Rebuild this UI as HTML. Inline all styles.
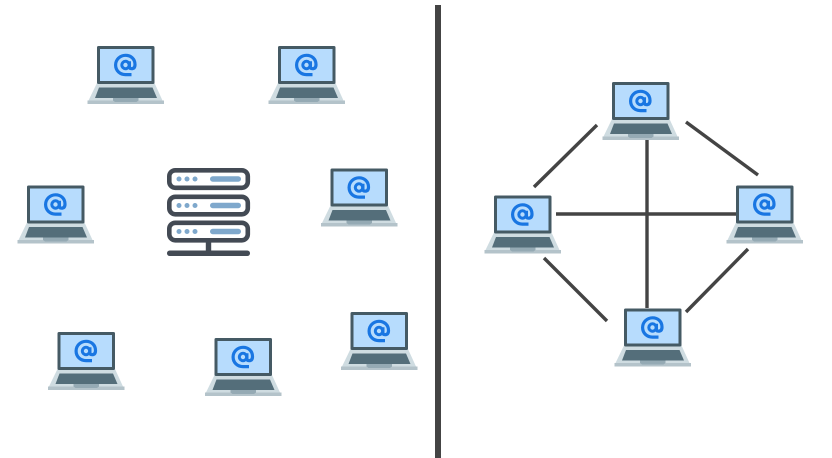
<!DOCTYPE html>
<html lang="en"><head><meta charset="utf-8"><title>Client-server and peer-to-peer networks</title>
<style>html,body{margin:0;padding:0;background:#fff}svg{display:block}</style></head>
<body>
<svg width="832" height="458" viewBox="0 0 832 458" xmlns="http://www.w3.org/2000/svg">
<defs>
<g id="l">
<path d="M10 37H67.500L75.500 54.500H1.500Z" fill="#cfdce1"/>
<path d="M12 41.500H65.500L70 52H8Z" fill="#546e7a"/>
<path d="M0.500 54.500H77V58H0.500Z" fill="#b4c3ca"/>
<path d="M26 52H51.500V54.500L49.500 56H28L26 54.500Z" fill="#95aab4"/>
<rect x="10" y="0" width="57.500" height="38" rx="1.500" fill="#455a64"/>
<rect x="13" y="3" width="51.500" height="32" fill="#b7dcfd"/>
<circle cx="38.500" cy="19" r="3.700" fill="none" stroke="#1976e2" stroke-width="3"/>
<path d="M42.400 15.300V20.500Q42.400 22.700 44.500 22.700Q48 22.700 48 18.500C48 13 43.800 9.300 38.500 9.300C33 9.300 28.600 13.600 28.600 19C28.600 24.700 33 28.600 38.500 28.600H44.500" fill="none" stroke="#1976e2" stroke-width="3.200"/>
</g>
<g id="s">
<rect x="2.300" y="2.300" width="78.500" height="17.500" rx="6" fill="#fff" stroke="#434a54" stroke-width="4.600"/>
<circle cx="12" cy="11" r="2.500" fill="#7fa8cc"/><circle cx="20" cy="11" r="2.500" fill="#7fa8cc"/><circle cx="28" cy="11" r="2.500" fill="#7fa8cc"/>
<rect x="43" y="8.300" width="31" height="5.400" rx="2.700" fill="#7fa8cc"/>
</g>
</defs>

<rect x="435" y="5" width="6" height="453" fill="#444"/>

<use href="#l" x="87" y="46"/>
<use href="#l" x="268" y="46"/>
<use href="#l" x="17" y="185.500"/>
<use href="#l" x="320.500" y="168.500"/>
<use href="#l" x="47.500" y="332"/>
<use href="#l" x="204.500" y="338"/>
<use href="#l" x="340.500" y="312"/>

<use href="#s" x="167" y="168"/>
<use href="#s" x="167" y="194.500"/>
<use href="#s" x="167" y="220.500"/>
<rect x="205.800" y="242" width="5.400" height="12" fill="#434a54"/>
<rect x="167" y="250.500" width="83" height="5.500" rx="2.700" fill="#434a54"/>

<g stroke="#444" stroke-width="3.400" fill="none">
<path d="M534 187L597 125"/>
<path d="M686 122L758 175"/>
<path d="M544 258L607 321"/>
<path d="M748 249L686 312"/>
<path d="M556 214H737"/>
<path d="M647 140V308"/>
</g>

<use href="#l" x="602" y="82"/>
<use href="#l" x="484" y="195.500"/>
<use href="#l" x="726" y="185.500"/>
<use href="#l" x="614" y="308.500"/>
</svg>
</body></html>
